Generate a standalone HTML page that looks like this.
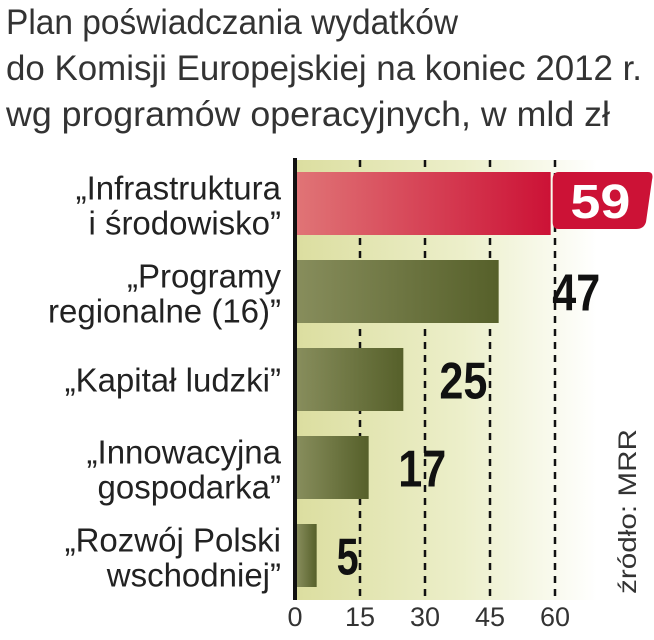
<!DOCTYPE html>
<html><head><meta charset="utf-8">
<style>
body{margin:0;width:654px;height:640px;background:#fff;overflow:hidden;font-family:"Liberation Sans",sans-serif;}
svg{display:block}
</style></head><body>
<svg id="c" width="654" height="640">
<defs>
<linearGradient id="bg" x1="0" x2="1" y1="0" y2="0">
<stop offset="0" stop-color="#dcdea0"/><stop offset="0.55" stop-color="#ecefca"/><stop offset="1" stop-color="#ffffff"/></linearGradient>
<linearGradient id="red" x1="0" x2="1"><stop offset="0" stop-color="#e07476"/><stop offset="1" stop-color="#cc1236"/></linearGradient>
<linearGradient id="grn" x1="0" x2="1"><stop offset="0" stop-color="#878d5c"/><stop offset="1" stop-color="#56602a"/></linearGradient>
</defs>
<g fill="#333" font-size="35">
<text x="6" y="34" textLength="452" lengthAdjust="spacingAndGlyphs">Plan poświadczania wydatków</text>
<text x="6" y="80" textLength="636" lengthAdjust="spacingAndGlyphs">do Komisji Europejskiej na koniec 2012 r.</text>
<text x="6" y="126" textLength="604" lengthAdjust="spacingAndGlyphs">wg programów operacyjnych, w mld zł</text>
</g>
<rect x="297" y="160" width="300" height="440" fill="url(#bg)"/>
<g id="grid"></g><g id="bars"></g><g id="labels"></g>
<rect x="293" y="158" width="4" height="442" fill="#111"/>
<text transform="translate(636,594) rotate(-90)" font-size="25" fill="#333" textLength="165" lengthAdjust="spacingAndGlyphs">źródło: MRR</text>
</svg>
<script>
const categories=[["„Infrastruktura","i środowisko”"],["„Programy","regionalne (16)”"],["„Kapitał ludzki”"],["„Innowacyjna","gospodarka”"],["„Rozwój Polski","wschodniej”"]];
const values=[59,47,25,17,5];
const ticks=[0,15,30,45,60];
const NS="http://www.w3.org/2000/svg";
const x0=295,x1=555,vmax=60;
const X=v=>x0+(x1-x0)*v/vmax;
const rowTop=i=>172+i*88, barH=63;
function mk(t,a,p){const e=document.createElementNS(NS,t);for(const k in a)e.setAttribute(k,a[k]);p.appendChild(e);return e;}
const grid=document.getElementById('grid'),bars=document.getElementById('bars'),labels=document.getElementById('labels');
ticks.forEach(t=>{
 if(t>0){const l=mk('line',{x1:X(t),x2:X(t),y1:160,y2:600,stroke:'#111','stroke-width':2.5,'stroke-dasharray':'7,6'},grid);
 
 }
 const tx=mk('text',{x:X(t),y:626,'text-anchor':'middle','font-size':27,fill:'#333'},labels);
 tx.textContent=t;
 
 
});
values.forEach((v,i)=>{
 const y=rowTop(i),cy=y+barH/2;
 const r=mk('rect',{x:297,y:y,width:X(v)-297,height:barH,fill:i===0?'url(#red)':'url(#grn)'},bars);
 
 
 const lines=categories[i];
 lines.forEach((s,j)=>{
  const off=lines.length===1?12:(j===0?-4:31);
  const t=mk('text',{x:281,y:cy+off,'text-anchor':'end','font-size':33,fill:'#222'},labels);
  t.textContent=s;
  
  
 });
 if(i===0){
  const b=mk('path',{d:`M${X(v)+8},${y} H648 Q654,${y} 652,${y+8} L646,${y+50} Q644,${y+57} 636,${y+57} H${X(v)+8} Q${X(v)+2},${y+57} ${X(v)+2},${y+50} V${y+8} Q${X(v)+2},${y} ${X(v)+8},${y}Z`,fill:'#cc1236'},labels);
  
  
  const t=mk('text',{x:(X(v)+650)/2,y:y+46,'text-anchor':'middle','font-size':48,'font-weight':'bold',fill:'#fff',textLength:60,lengthAdjust:'spacingAndGlyphs'},labels);
  t.textContent=v;
  
  
 } else {
  const gap=16+v*0.8;
  const w=String(v).length>1?48:22;
  const t=mk('text',{x:X(v)+gap,y:cy+19,'text-anchor':'start','font-size':52,'font-weight':'bold',fill:'#111',textLength:w,lengthAdjust:'spacingAndGlyphs'},labels);
  t.textContent=v;
  
  
 }
});
</script>
</body></html>
